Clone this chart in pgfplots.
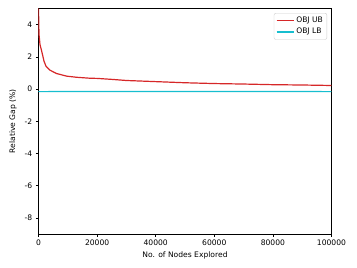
\documentclass[border=0pt]{standalone}
\usepackage{pgfplots}
\pgfplotsset{compat=1.18}
\usepackage{fontspec}
\setmainfont{DejaVu Sans}
\definecolor{ubcolor}{rgb}{0.839,0.153,0.157}
\definecolor{lbcolor}{rgb}{0.090,0.745,0.812}
\begin{document}
\begin{tikzpicture}[x=1pt,y=1pt]
\path[use as bounding box] (0,0) rectangle (357,268);
\begin{axis}[
  at={(38.5pt,34pt)}, anchor=south west,
  scale only axis, width=293pt, height=225.5pt,
  xmin=0, xmax=100000, ymin=-9, ymax=5,
  xtick={0,20000,40000,60000,80000,100000},
  ytick={-8,-6,-4,-2,0,2,4},
  scaled x ticks=false,
  xticklabel style={/pgf/number format/.cd,fixed,1000 sep={}},
  /pgf/number format/assume math mode=true,
  tick label style={font=\fontsize{7.6}{9}\selectfont},
  label style={font=\fontsize{7.6}{9}\selectfont},
  xlabel={No. of Nodes Explored},
  ylabel={Relative Gap (\%)},
  xlabel style={yshift=1pt},
  ylabel style={yshift=1pt},
  tick align=outside, tick pos=left,
  major tick length=2.7pt,
  every tick/.style={black, line width=0.5pt},
  axis line style={line width=0.6pt},
  legend style={at={(0.985,0.98)}, anchor=north east, draw=black!20, rounded corners=2pt,
    font=\fontsize{7.6}{9}\selectfont, inner sep=2pt},
  legend cell align=left,
]
\addplot[color=ubcolor, line width=1.2pt] coordinates {
(0,5.0) (170,3.4) (510,2.76) (1090,2.35) (1880,1.73) (2560,1.42) (3920,1.17)
(6210,0.96) (9620,0.8) (13000,0.73) (17600,0.67) (20000,0.66) (25000,0.6)
(30000,0.53) (40000,0.46) (50000,0.39) (60000,0.34) (70000,0.31) (80000,0.27)
(90000,0.25) (100000,0.22)
};
\addlegendentry{OBJ UB}
\addplot[color=lbcolor, line width=1.2pt] coordinates {(0,-0.16) (50000,-0.15) (100000,-0.16)};
\addlegendentry{OBJ LB}
\end{axis}
\end{tikzpicture}
\end{document}
